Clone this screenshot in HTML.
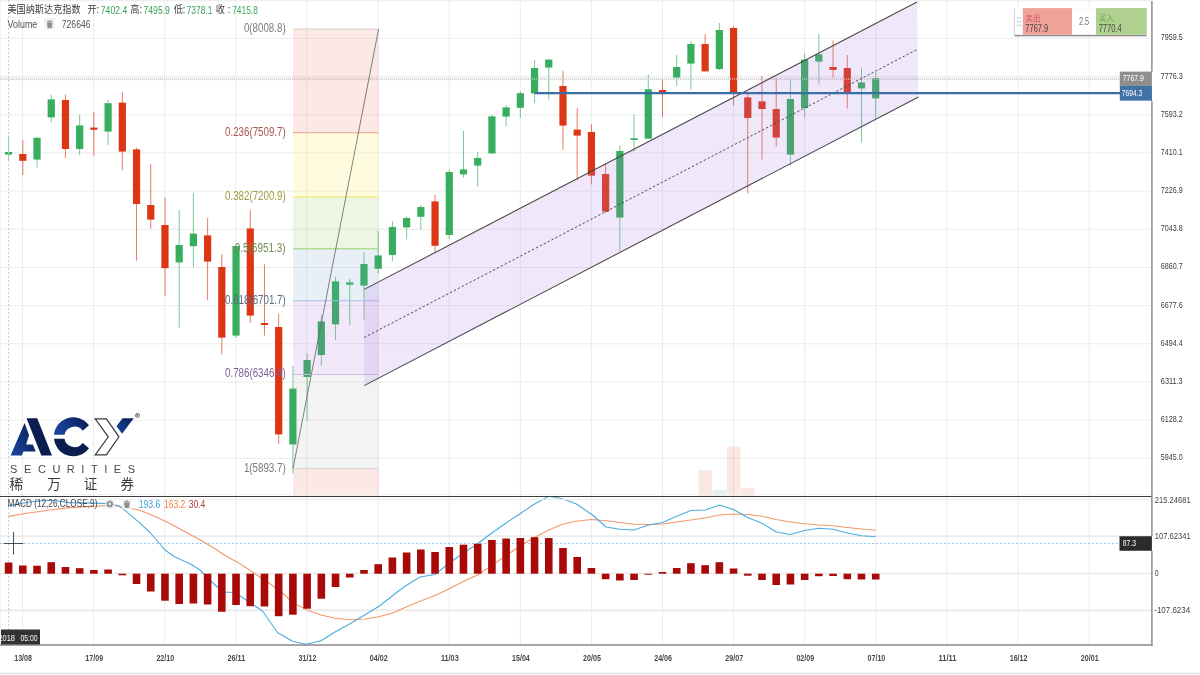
<!DOCTYPE html><html><head><meta charset="utf-8"><title>chart</title><style>html,body{margin:0;padding:0;background:#fff;overflow:hidden}svg{display:block;will-change:transform}</style></head><body><svg width="1200" height="675" viewBox="0 0 1200 675" font-family="'Liberation Sans', 'Noto Sans CJK SC', sans-serif">
<defs>
<linearGradient id="gA" x1="0" y1="1" x2="1" y2="0.35"><stop offset="0" stop-color="#1848a2"/><stop offset="0.55" stop-color="#12337e"/><stop offset="1" stop-color="#0b1d55"/></linearGradient>
<linearGradient id="gC" x1="0" y1="0.3" x2="1" y2="0"><stop offset="0" stop-color="#17459e"/><stop offset="0.5" stop-color="#113079"/><stop offset="1" stop-color="#0a1a4c"/></linearGradient>
<linearGradient id="gY" x1="0" y1="1" x2="1" y2="0"><stop offset="0" stop-color="#17459e"/><stop offset="1" stop-color="#0b1f5a"/></linearGradient>
<clipPath id="cpMain"><rect x="0" y="0" width="1151.5" height="496.5"/></clipPath>
<clipPath id="cpMacd"><rect x="0" y="497.0" width="1151.5" height="148.0"/></clipPath>
<clipPath id="cpAxis"><rect x="1151.5" y="496.5" width="39.3" height="148.5"/></clipPath>
</defs>
<rect width="1200" height="675" fill="#ffffff"/>
<line x1="22.5" y1="0" x2="22.5" y2="645" stroke="#ececec" stroke-width="1"/>
<line x1="93.6" y1="0" x2="93.6" y2="645" stroke="#ececec" stroke-width="1"/>
<line x1="164.7" y1="0" x2="164.7" y2="645" stroke="#ececec" stroke-width="1"/>
<line x1="235.8" y1="0" x2="235.8" y2="645" stroke="#ececec" stroke-width="1"/>
<line x1="306.9" y1="0" x2="306.9" y2="645" stroke="#ececec" stroke-width="1"/>
<line x1="378.1" y1="0" x2="378.1" y2="645" stroke="#ececec" stroke-width="1"/>
<line x1="449.2" y1="0" x2="449.2" y2="645" stroke="#ececec" stroke-width="1"/>
<line x1="520.3" y1="0" x2="520.3" y2="645" stroke="#ececec" stroke-width="1"/>
<line x1="591.4" y1="0" x2="591.4" y2="645" stroke="#ececec" stroke-width="1"/>
<line x1="662.5" y1="0" x2="662.5" y2="645" stroke="#ececec" stroke-width="1"/>
<line x1="733.6" y1="0" x2="733.6" y2="645" stroke="#ececec" stroke-width="1"/>
<line x1="804.7" y1="0" x2="804.7" y2="645" stroke="#ececec" stroke-width="1"/>
<line x1="875.8" y1="0" x2="875.8" y2="645" stroke="#ececec" stroke-width="1"/>
<line x1="946.9" y1="0" x2="946.9" y2="645" stroke="#ececec" stroke-width="1"/>
<line x1="1018.0" y1="0" x2="1018.0" y2="645" stroke="#ececec" stroke-width="1"/>
<line x1="1089.2" y1="0" x2="1089.2" y2="645" stroke="#ececec" stroke-width="1"/>
<line x1="0" y1="38.4" x2="1151.5" y2="38.4" stroke="#ececec" stroke-width="1"/>
<line x1="0" y1="76.6" x2="1151.5" y2="76.6" stroke="#ececec" stroke-width="1"/>
<line x1="0" y1="114.8" x2="1151.5" y2="114.8" stroke="#ececec" stroke-width="1"/>
<line x1="0" y1="152.9" x2="1151.5" y2="152.9" stroke="#ececec" stroke-width="1"/>
<line x1="0" y1="191.1" x2="1151.5" y2="191.1" stroke="#ececec" stroke-width="1"/>
<line x1="0" y1="229.3" x2="1151.5" y2="229.3" stroke="#ececec" stroke-width="1"/>
<line x1="0" y1="267.5" x2="1151.5" y2="267.5" stroke="#ececec" stroke-width="1"/>
<line x1="0" y1="305.7" x2="1151.5" y2="305.7" stroke="#ececec" stroke-width="1"/>
<line x1="0" y1="343.8" x2="1151.5" y2="343.8" stroke="#ececec" stroke-width="1"/>
<line x1="0" y1="382.0" x2="1151.5" y2="382.0" stroke="#ececec" stroke-width="1"/>
<line x1="0" y1="420.2" x2="1151.5" y2="420.2" stroke="#ececec" stroke-width="1"/>
<line x1="0" y1="458.4" x2="1151.5" y2="458.4" stroke="#ececec" stroke-width="1"/>
<line x1="0" y1="0.6" x2="1151.5" y2="0.6" stroke="#efefef" stroke-width="1.2"/><line x1="0.4" y1="0" x2="0.4" y2="645" stroke="#ececec" stroke-width="0.8"/>
<line x1="0" y1="536.2" x2="1151.5" y2="536.2" stroke="#e4e4e4" stroke-width="1.2"/>
<line x1="0" y1="573.5" x2="1151.5" y2="573.5" stroke="#eaeaea" stroke-width="1.6"/>
<line x1="0" y1="610.3" x2="1151.5" y2="610.3" stroke="#efefef" stroke-width="2.6"/>
<rect x="698.4" y="470" width="13.5" height="26.5" fill="rgba(225,80,40,0.13)"/>
<rect x="712.6" y="490" width="13.5" height="6.5" fill="rgba(60,176,94,0.15)"/>
<rect x="726.8" y="446.4" width="13.5" height="50.10000000000002" fill="rgba(225,80,40,0.13)"/>
<rect x="741.0" y="487.9" width="13.5" height="8.600000000000023" fill="rgba(225,80,40,0.13)"/>
<rect x="0" y="77.7" width="1119.5" height="2.7" fill="#f3f3f3"/>
<line x1="0" y1="79" x2="1119.5" y2="79" stroke="#c9c9c9" stroke-width="2" stroke-dasharray="1,1"/>
<g clip-path="url(#cpMain)">
<line x1="8.60" y1="135.6" x2="8.60" y2="160" stroke="#36ae5d" stroke-width="1" opacity="0.66"/>
<rect x="5.00" y="152" width="7.2" height="2.6" fill="#36ae5d"/>
<line x1="22.81" y1="140.4" x2="22.81" y2="175" stroke="#db3715" stroke-width="1" opacity="0.66"/>
<rect x="19.21" y="154" width="7.2" height="6.8" fill="#db3715"/>
<line x1="37.03" y1="137" x2="37.03" y2="167.4" stroke="#36ae5d" stroke-width="1" opacity="0.66"/>
<rect x="33.43" y="137.8" width="7.2" height="21.8" fill="#36ae5d"/>
<line x1="51.24" y1="94.6" x2="51.24" y2="122.6" stroke="#36ae5d" stroke-width="1" opacity="0.66"/>
<rect x="47.64" y="99.4" width="7.2" height="18.0" fill="#36ae5d"/>
<line x1="65.46" y1="94.6" x2="65.46" y2="158" stroke="#db3715" stroke-width="1" opacity="0.66"/>
<rect x="61.86" y="100" width="7.2" height="49.0" fill="#db3715"/>
<line x1="79.67" y1="115" x2="79.67" y2="155" stroke="#36ae5d" stroke-width="1" opacity="0.66"/>
<rect x="76.08" y="125.4" width="7.2" height="23.6" fill="#36ae5d"/>
<line x1="93.89" y1="112" x2="93.89" y2="155.6" stroke="#db3715" stroke-width="1" opacity="0.66"/>
<rect x="90.29" y="127.6" width="7.2" height="2.2" fill="#db3715"/>
<line x1="108.10" y1="100" x2="108.10" y2="145" stroke="#36ae5d" stroke-width="1" opacity="0.66"/>
<rect x="104.50" y="103.2" width="7.2" height="28.4" fill="#36ae5d"/>
<line x1="122.32" y1="91.6" x2="122.32" y2="170" stroke="#db3715" stroke-width="1" opacity="0.66"/>
<rect x="118.72" y="102.6" width="7.2" height="49.0" fill="#db3715"/>
<line x1="136.53" y1="147.6" x2="136.53" y2="260.6" stroke="#db3715" stroke-width="1" opacity="0.66"/>
<rect x="132.94" y="149.4" width="7.2" height="54.6" fill="#db3715"/>
<line x1="150.75" y1="164" x2="150.75" y2="228.6" stroke="#db3715" stroke-width="1" opacity="0.66"/>
<rect x="147.15" y="205" width="7.2" height="14.6" fill="#db3715"/>
<line x1="164.97" y1="197.6" x2="164.97" y2="296" stroke="#db3715" stroke-width="1" opacity="0.66"/>
<rect x="161.37" y="225" width="7.2" height="43.2" fill="#db3715"/>
<line x1="179.18" y1="210" x2="179.18" y2="327.6" stroke="#36ae5d" stroke-width="1" opacity="0.66"/>
<rect x="175.58" y="245" width="7.2" height="17.4" fill="#36ae5d"/>
<line x1="193.39" y1="193" x2="193.39" y2="267.4" stroke="#36ae5d" stroke-width="1" opacity="0.66"/>
<rect x="189.79" y="233.6" width="7.2" height="12.6" fill="#36ae5d"/>
<line x1="207.61" y1="218" x2="207.61" y2="300" stroke="#db3715" stroke-width="1" opacity="0.66"/>
<rect x="204.01" y="235.4" width="7.2" height="26.2" fill="#db3715"/>
<line x1="221.82" y1="254" x2="221.82" y2="354.4" stroke="#db3715" stroke-width="1" opacity="0.66"/>
<rect x="218.22" y="267" width="7.2" height="70.6" fill="#db3715"/>
<line x1="236.04" y1="246" x2="236.04" y2="338" stroke="#36ae5d" stroke-width="1" opacity="0.66"/>
<rect x="232.44" y="246" width="7.2" height="89.6" fill="#36ae5d"/>
<line x1="250.25" y1="210" x2="250.25" y2="323" stroke="#db3715" stroke-width="1" opacity="0.66"/>
<rect x="246.66" y="228.4" width="7.2" height="87.2" fill="#db3715"/>
<line x1="264.47" y1="264.4" x2="264.47" y2="335.6" stroke="#db3715" stroke-width="1" opacity="0.66"/>
<rect x="260.87" y="323" width="7.2" height="2.0" fill="#db3715"/>
<line x1="278.69" y1="314" x2="278.69" y2="444.4" stroke="#db3715" stroke-width="1" opacity="0.66"/>
<rect x="275.08" y="327" width="7.2" height="107.4" fill="#db3715"/>
<line x1="292.90" y1="366" x2="292.90" y2="473.6" stroke="#36ae5d" stroke-width="1" opacity="0.66"/>
<rect x="289.30" y="388.6" width="7.2" height="55.8" fill="#36ae5d"/>
<line x1="307.12" y1="353" x2="307.12" y2="421" stroke="#36ae5d" stroke-width="1" opacity="0.66"/>
<rect x="303.51" y="360" width="7.2" height="17.0" fill="#36ae5d"/>
<line x1="321.33" y1="315" x2="321.33" y2="365.6" stroke="#36ae5d" stroke-width="1" opacity="0.66"/>
<rect x="317.73" y="321.4" width="7.2" height="33.6" fill="#36ae5d"/>
<line x1="335.55" y1="276.6" x2="335.55" y2="340" stroke="#36ae5d" stroke-width="1" opacity="0.66"/>
<rect x="331.94" y="281.4" width="7.2" height="43.0" fill="#36ae5d"/>
<line x1="349.76" y1="279" x2="349.76" y2="325" stroke="#36ae5d" stroke-width="1" opacity="0.66"/>
<rect x="346.16" y="282.4" width="7.2" height="2.3" fill="#36ae5d"/>
<line x1="363.98" y1="252" x2="363.98" y2="319.6" stroke="#36ae5d" stroke-width="1" opacity="0.66"/>
<rect x="360.38" y="264" width="7.2" height="21.6" fill="#36ae5d"/>
<line x1="378.19" y1="231" x2="378.19" y2="273.6" stroke="#36ae5d" stroke-width="1" opacity="0.66"/>
<rect x="374.59" y="255.4" width="7.2" height="13.4" fill="#36ae5d"/>
<line x1="392.41" y1="221" x2="392.41" y2="261" stroke="#36ae5d" stroke-width="1" opacity="0.66"/>
<rect x="388.81" y="227" width="7.2" height="28.0" fill="#36ae5d"/>
<line x1="406.62" y1="216.4" x2="406.62" y2="239.4" stroke="#36ae5d" stroke-width="1" opacity="0.66"/>
<rect x="403.02" y="218" width="7.2" height="9.4" fill="#36ae5d"/>
<line x1="420.84" y1="205" x2="420.84" y2="229.6" stroke="#36ae5d" stroke-width="1" opacity="0.66"/>
<rect x="417.24" y="207" width="7.2" height="9.8" fill="#36ae5d"/>
<line x1="435.05" y1="195" x2="435.05" y2="252" stroke="#db3715" stroke-width="1" opacity="0.66"/>
<rect x="431.45" y="201.4" width="7.2" height="44.4" fill="#db3715"/>
<line x1="449.27" y1="169.6" x2="449.27" y2="239" stroke="#36ae5d" stroke-width="1" opacity="0.66"/>
<rect x="445.67" y="172" width="7.2" height="63.0" fill="#36ae5d"/>
<line x1="463.48" y1="131" x2="463.48" y2="177.6" stroke="#36ae5d" stroke-width="1" opacity="0.66"/>
<rect x="459.88" y="169.4" width="7.2" height="5.0" fill="#36ae5d"/>
<line x1="477.69" y1="152" x2="477.69" y2="186.4" stroke="#36ae5d" stroke-width="1" opacity="0.66"/>
<rect x="474.09" y="158" width="7.2" height="7.6" fill="#36ae5d"/>
<line x1="491.91" y1="115" x2="491.91" y2="154" stroke="#36ae5d" stroke-width="1" opacity="0.66"/>
<rect x="488.31" y="116.4" width="7.2" height="37.0" fill="#36ae5d"/>
<line x1="506.12" y1="105" x2="506.12" y2="126.6" stroke="#36ae5d" stroke-width="1" opacity="0.66"/>
<rect x="502.52" y="107.4" width="7.2" height="9.2" fill="#36ae5d"/>
<line x1="520.34" y1="91" x2="520.34" y2="118" stroke="#36ae5d" stroke-width="1" opacity="0.66"/>
<rect x="516.74" y="93.2" width="7.2" height="14.6" fill="#36ae5d"/>
<line x1="534.56" y1="60" x2="534.56" y2="103" stroke="#36ae5d" stroke-width="1" opacity="0.66"/>
<rect x="530.96" y="68" width="7.2" height="25.4" fill="#36ae5d"/>
<line x1="548.77" y1="59.6" x2="548.77" y2="99.4" stroke="#36ae5d" stroke-width="1" opacity="0.66"/>
<rect x="545.17" y="59.6" width="7.2" height="8.0" fill="#36ae5d"/>
<line x1="562.99" y1="70.8" x2="562.99" y2="150" stroke="#db3715" stroke-width="1" opacity="0.66"/>
<rect x="559.38" y="86" width="7.2" height="39.6" fill="#db3715"/>
<line x1="577.20" y1="108" x2="577.20" y2="180" stroke="#db3715" stroke-width="1" opacity="0.66"/>
<rect x="573.60" y="129.6" width="7.2" height="6.0" fill="#db3715"/>
<line x1="591.41" y1="124.4" x2="591.41" y2="184.4" stroke="#db3715" stroke-width="1" opacity="0.66"/>
<rect x="587.81" y="132" width="7.2" height="43.6" fill="#db3715"/>
<line x1="605.63" y1="163" x2="605.63" y2="213" stroke="#db3715" stroke-width="1" opacity="0.66"/>
<rect x="602.03" y="174" width="7.2" height="37.6" fill="#db3715"/>
<line x1="619.85" y1="145.6" x2="619.85" y2="251" stroke="#36ae5d" stroke-width="1" opacity="0.66"/>
<rect x="616.25" y="151" width="7.2" height="66.6" fill="#36ae5d"/>
<line x1="634.06" y1="114.6" x2="634.06" y2="151.4" stroke="#36ae5d" stroke-width="1" opacity="0.66"/>
<rect x="630.46" y="138.3" width="7.2" height="1.7" fill="#36ae5d"/>
<line x1="648.27" y1="74.4" x2="648.27" y2="139" stroke="#36ae5d" stroke-width="1" opacity="0.66"/>
<rect x="644.67" y="89.2" width="7.2" height="49.4" fill="#36ae5d"/>
<line x1="662.49" y1="79" x2="662.49" y2="117.2" stroke="#db3715" stroke-width="1" opacity="0.66"/>
<rect x="658.89" y="90" width="7.2" height="2.6" fill="#db3715"/>
<line x1="676.71" y1="55" x2="676.71" y2="85.6" stroke="#36ae5d" stroke-width="1" opacity="0.66"/>
<rect x="673.11" y="67" width="7.2" height="10.6" fill="#36ae5d"/>
<line x1="690.92" y1="41" x2="690.92" y2="89.6" stroke="#36ae5d" stroke-width="1" opacity="0.66"/>
<rect x="687.32" y="44" width="7.2" height="19.6" fill="#36ae5d"/>
<line x1="705.13" y1="34" x2="705.13" y2="71.4" stroke="#db3715" stroke-width="1" opacity="0.66"/>
<rect x="701.53" y="44" width="7.2" height="27.4" fill="#db3715"/>
<line x1="719.35" y1="23" x2="719.35" y2="70" stroke="#36ae5d" stroke-width="1" opacity="0.66"/>
<rect x="715.75" y="30" width="7.2" height="39.0" fill="#36ae5d"/>
<line x1="733.57" y1="26" x2="733.57" y2="105.6" stroke="#db3715" stroke-width="1" opacity="0.66"/>
<rect x="729.97" y="28" width="7.2" height="65.0" fill="#db3715"/>
<line x1="747.78" y1="94" x2="747.78" y2="193.4" stroke="#db3715" stroke-width="1" opacity="0.66"/>
<rect x="744.18" y="97.4" width="7.2" height="20.6" fill="#db3715"/>
<line x1="762.00" y1="76" x2="762.00" y2="159.6" stroke="#db3715" stroke-width="1" opacity="0.66"/>
<rect x="758.39" y="101.4" width="7.2" height="7.6" fill="#db3715"/>
<line x1="776.21" y1="78" x2="776.21" y2="146.6" stroke="#db3715" stroke-width="1" opacity="0.66"/>
<rect x="772.61" y="109" width="7.2" height="28.6" fill="#db3715"/>
<line x1="790.43" y1="79" x2="790.43" y2="166" stroke="#36ae5d" stroke-width="1" opacity="0.66"/>
<rect x="786.83" y="99" width="7.2" height="55.6" fill="#36ae5d"/>
<line x1="804.64" y1="53.6" x2="804.64" y2="118" stroke="#36ae5d" stroke-width="1" opacity="0.66"/>
<rect x="801.04" y="59.6" width="7.2" height="48.4" fill="#36ae5d"/>
<line x1="818.86" y1="34.4" x2="818.86" y2="84.4" stroke="#36ae5d" stroke-width="1" opacity="0.66"/>
<rect x="815.25" y="54.4" width="7.2" height="7.2" fill="#36ae5d"/>
<line x1="833.07" y1="40.6" x2="833.07" y2="77.6" stroke="#db3715" stroke-width="1" opacity="0.66"/>
<rect x="829.47" y="67" width="7.2" height="3.0" fill="#db3715"/>
<line x1="847.28" y1="55" x2="847.28" y2="108.6" stroke="#db3715" stroke-width="1" opacity="0.66"/>
<rect x="843.68" y="68" width="7.2" height="24.4" fill="#db3715"/>
<line x1="861.50" y1="67.6" x2="861.50" y2="142.4" stroke="#36ae5d" stroke-width="1" opacity="0.66"/>
<rect x="857.90" y="82.4" width="7.2" height="6.0" fill="#36ae5d"/>
<line x1="875.72" y1="72.4" x2="875.72" y2="119" stroke="#36ae5d" stroke-width="1" opacity="0.66"/>
<rect x="872.12" y="78" width="7.2" height="20.4" fill="#36ae5d"/>
</g>
<line x1="0" y1="79" x2="1119.5" y2="79" stroke="rgba(225,225,225,0.5)" stroke-width="1.8" stroke-dasharray="1,1"/>
<rect x="293.0" y="29.0" width="85.6" height="103.7" fill="rgba(240,120,100,0.17)"/>
<rect x="293.0" y="132.7" width="85.6" height="64.2" fill="rgba(250,235,90,0.20)"/>
<rect x="293.0" y="196.9" width="85.6" height="51.9" fill="rgba(150,200,80,0.16)"/>
<rect x="293.0" y="248.8" width="85.6" height="51.9" fill="rgba(110,158,205,0.16)"/>
<rect x="293.0" y="300.7" width="85.6" height="73.9" fill="rgba(170,120,220,0.16)"/>
<rect x="293.0" y="374.5" width="85.6" height="94.1" fill="rgba(150,150,150,0.11)"/>
<rect x="293.0" y="468.6" width="85.6" height="27.9" fill="rgba(240,120,100,0.17)"/>
<line x1="293.0" y1="29.0" x2="378.6" y2="29.0" stroke="#d9cfcb" stroke-width="0.9"/>
<text x="243.9" y="31.9" font-size="12.5" fill="#7b7b7b" textLength="41.8" lengthAdjust="spacingAndGlyphs">0(8008.8)</text>
<line x1="293.0" y1="132.7" x2="378.6" y2="132.7" stroke="#f0a190" stroke-width="1.1"/>
<text x="225.0" y="135.6" font-size="12.5" fill="#a4574c" textLength="60.7" lengthAdjust="spacingAndGlyphs">0.236(7509.7)</text>
<line x1="293.0" y1="196.9" x2="378.6" y2="196.9" stroke="#f5ec74" stroke-width="1.4"/>
<text x="225.0" y="199.8" font-size="12.5" fill="#a39a3c" textLength="60.7" lengthAdjust="spacingAndGlyphs">0.382(7200.9)</text>
<line x1="293.0" y1="248.8" x2="378.6" y2="248.8" stroke="#b4dc95" stroke-width="1.4"/>
<text x="234.7" y="251.7" font-size="12.5" fill="#6f8a52" textLength="51.0" lengthAdjust="spacingAndGlyphs">0.5(6951.3)</text>
<line x1="293.0" y1="300.7" x2="378.6" y2="300.7" stroke="#a4c0e2" stroke-width="1.1"/>
<text x="225.0" y="303.6" font-size="12.5" fill="#5b6b86" textLength="60.7" lengthAdjust="spacingAndGlyphs">0.618(6701.7)</text>
<line x1="293.0" y1="374.5" x2="378.6" y2="374.5" stroke="#d3bbe8" stroke-width="1.1"/>
<text x="225.0" y="377.4" font-size="12.5" fill="#7d5f9d" textLength="60.7" lengthAdjust="spacingAndGlyphs">0.786(6346.4)</text>
<line x1="293.0" y1="468.6" x2="378.6" y2="468.6" stroke="#d4d4d4" stroke-width="0.9"/>
<text x="243.9" y="471.5" font-size="12.5" fill="#7b7b7b" textLength="41.8" lengthAdjust="spacingAndGlyphs">1(5893.7)</text>
<line x1="293.0" y1="468.6" x2="378.6" y2="29.0" stroke="#6a6a6a" stroke-width="0.85"/>
<polygon points="364.2,289.4 917,2 918.5,97 364.2,385.6" fill="rgba(178,120,225,0.18)"/>
<line x1="364.2" y1="289.4" x2="917" y2="2" stroke="#474747" stroke-width="1.05"/>
<line x1="364.2" y1="385.6" x2="918.5" y2="97" stroke="#474747" stroke-width="1.05"/>
<line x1="364.2" y1="337.5" x2="918" y2="49" stroke="#4a4a4a" stroke-width="1.0" stroke-dasharray="2.3,2.1"/>
<line x1="534.8" y1="93.15" x2="1120.5" y2="93.15" stroke="#3b6ea6" stroke-width="2.3"/>
<line x1="8.6" y1="0" x2="8.6" y2="645" stroke="#a6d4f7" stroke-width="1" stroke-dasharray="2,2"/>
<line x1="0" y1="543.5" x2="1119.5" y2="543.5" stroke="#93cdf6" stroke-width="1" stroke-dasharray="2,2"/>
<g clip-path="url(#cpMacd)">
<polyline fill="none" stroke="#f4976a" stroke-width="1.1" stroke-linejoin="round" points="8.4,516.4 23.4,513.7 50.0,510.0 70.0,507.6 104.0,505.8 117.0,506.0 140.0,510.2 157.5,517.5 172.5,525.0 187.5,533.0 202.5,541.2 215.0,548.7 225.0,555.5 240.0,563.7 255.0,573.7 270.0,583.7 285.0,595.0 292.5,602.5 307.5,610.0 321.0,615.0 335.0,618.2 350.0,619.7 365.0,619.0 379.0,616.7 392.5,613.0 405.0,607.5 420.0,601.2 435.0,595.5 450.0,588.2 463.7,581.2 477.5,575.0 492.5,565.0 506.0,555.5 520.0,546.2 534.5,537.5 548.7,530.0 562.5,524.2 576.0,521.2 591.7,519.5 606.0,520.7 620.0,522.5 634.2,524.2 648.5,524.5 662.7,524.0 676.7,522.0 691.0,520.0 705.2,518.0 719.5,515.0 733.5,514.0 747.7,514.5 762.0,516.2 776.2,519.5 790.2,522.0 804.5,523.7 818.7,525.0 833.0,525.7 847.2,527.5 861.5,529.0 875.7,530.3"/>
<polyline fill="none" stroke="#4cace0" stroke-width="1.1" stroke-linejoin="round" points="8.4,505.6 30.0,502.0 50.0,500.3 70.0,502.6 104.0,503.4 118.0,505.5 124.0,509.6 130.0,514.7 135.0,518.9 140.0,523.1 150.0,532.5 165.0,550.0 175.0,557.0 190.0,563.7 200.0,570.0 212.5,582.5 222.5,592.0 235.0,592.5 250.0,602.5 262.5,611.0 277.5,632.5 292.5,641.2 306.0,644.2 321.0,640.7 335.0,632.0 350.0,623.7 362.5,616.2 379.0,606.2 395.0,593.7 405.0,586.2 420.0,577.0 435.0,574.5 450.0,562.5 462.5,553.7 477.5,543.7 492.5,532.5 505.0,523.7 520.0,513.7 535.0,503.7 548.7,496.2 562.5,498.7 576.0,503.7 592.5,515.0 606.0,527.0 620.0,529.2 633.7,530.0 648.7,525.0 662.5,522.5 676.7,516.2 691.0,510.5 705.2,510.0 719.5,505.0 733.5,509.5 747.7,517.5 762.0,523.2 776.2,532.0 790.2,534.5 804.5,530.5 818.7,528.2 833.0,529.2 847.2,533.0 861.5,535.7 875.7,536.8"/>
<rect x="4.80" y="562.5" width="7.6" height="11.2" fill="#a80909"/>
<rect x="19.01" y="565.5" width="7.6" height="8.2" fill="#a80909"/>
<rect x="33.23" y="565.7" width="7.6" height="8.0" fill="#a80909"/>
<rect x="47.45" y="562.2" width="7.6" height="11.5" fill="#a80909"/>
<rect x="61.66" y="567.0" width="7.6" height="6.7" fill="#a80909"/>
<rect x="75.88" y="568.2" width="7.6" height="5.5" fill="#a80909"/>
<rect x="90.09" y="570.0" width="7.6" height="3.7" fill="#a80909"/>
<rect x="104.30" y="569.5" width="7.6" height="4.2" fill="#a80909"/>
<rect x="118.52" y="573.7" width="7.6" height="1.6" fill="#a80909"/>
<rect x="132.73" y="573.7" width="7.6" height="10.3" fill="#a80909"/>
<rect x="146.95" y="573.7" width="7.6" height="17.8" fill="#a80909"/>
<rect x="161.16" y="573.7" width="7.6" height="27.0" fill="#a80909"/>
<rect x="175.38" y="573.7" width="7.6" height="30.3" fill="#a80909"/>
<rect x="189.59" y="573.7" width="7.6" height="29.8" fill="#a80909"/>
<rect x="203.81" y="573.7" width="7.6" height="30.8" fill="#a80909"/>
<rect x="218.02" y="573.7" width="7.6" height="38.0" fill="#a80909"/>
<rect x="232.24" y="573.7" width="7.6" height="31.3" fill="#a80909"/>
<rect x="246.45" y="573.7" width="7.6" height="32.5" fill="#a80909"/>
<rect x="260.67" y="573.7" width="7.6" height="32.8" fill="#a80909"/>
<rect x="274.88" y="573.7" width="7.6" height="42.5" fill="#a80909"/>
<rect x="289.10" y="573.7" width="7.6" height="41.0" fill="#a80909"/>
<rect x="303.31" y="573.7" width="7.6" height="35.0" fill="#a80909"/>
<rect x="317.53" y="573.7" width="7.6" height="25.0" fill="#a80909"/>
<rect x="331.75" y="573.7" width="7.6" height="13.3" fill="#a80909"/>
<rect x="345.96" y="573.7" width="7.6" height="3.8" fill="#a80909"/>
<rect x="360.18" y="570.0" width="7.6" height="3.7" fill="#a80909"/>
<rect x="374.39" y="564.2" width="7.6" height="9.5" fill="#a80909"/>
<rect x="388.61" y="557.5" width="7.6" height="16.2" fill="#a80909"/>
<rect x="402.82" y="552.5" width="7.6" height="21.2" fill="#a80909"/>
<rect x="417.04" y="549.5" width="7.6" height="24.2" fill="#a80909"/>
<rect x="431.25" y="552.0" width="7.6" height="21.7" fill="#a80909"/>
<rect x="445.47" y="547.0" width="7.6" height="26.7" fill="#a80909"/>
<rect x="459.68" y="544.7" width="7.6" height="29.0" fill="#a80909"/>
<rect x="473.89" y="543.7" width="7.6" height="30.0" fill="#a80909"/>
<rect x="488.11" y="540.0" width="7.6" height="33.7" fill="#a80909"/>
<rect x="502.32" y="538.5" width="7.6" height="35.2" fill="#a80909"/>
<rect x="516.54" y="538.0" width="7.6" height="35.7" fill="#a80909"/>
<rect x="530.76" y="537.2" width="7.6" height="36.5" fill="#a80909"/>
<rect x="544.97" y="538.0" width="7.6" height="35.7" fill="#a80909"/>
<rect x="559.19" y="548.0" width="7.6" height="25.7" fill="#a80909"/>
<rect x="573.40" y="557.0" width="7.6" height="16.7" fill="#a80909"/>
<rect x="587.62" y="568.0" width="7.6" height="5.7" fill="#a80909"/>
<rect x="601.83" y="573.7" width="7.6" height="5.5" fill="#a80909"/>
<rect x="616.05" y="573.7" width="7.6" height="6.8" fill="#a80909"/>
<rect x="630.26" y="573.7" width="7.6" height="6.3" fill="#a80909"/>
<rect x="644.48" y="573.7" width="7.6" height="1.0" fill="#a80909"/>
<rect x="658.69" y="572.0" width="7.6" height="1.7" fill="#a80909"/>
<rect x="672.91" y="568.0" width="7.6" height="5.7" fill="#a80909"/>
<rect x="687.12" y="563.2" width="7.6" height="10.5" fill="#a80909"/>
<rect x="701.34" y="565.2" width="7.6" height="8.5" fill="#a80909"/>
<rect x="715.55" y="562.2" width="7.6" height="11.5" fill="#a80909"/>
<rect x="729.77" y="568.5" width="7.6" height="5.2" fill="#a80909"/>
<rect x="743.98" y="573.7" width="7.6" height="2.0" fill="#a80909"/>
<rect x="758.20" y="573.7" width="7.6" height="6.3" fill="#a80909"/>
<rect x="772.41" y="573.7" width="7.6" height="11.3" fill="#a80909"/>
<rect x="786.63" y="573.7" width="7.6" height="10.8" fill="#a80909"/>
<rect x="800.84" y="573.7" width="7.6" height="6.3" fill="#a80909"/>
<rect x="815.06" y="573.7" width="7.6" height="2.5" fill="#a80909"/>
<rect x="829.27" y="573.7" width="7.6" height="2.3" fill="#a80909"/>
<rect x="843.49" y="573.7" width="7.6" height="5.5" fill="#a80909"/>
<rect x="857.70" y="573.7" width="7.6" height="5.8" fill="#a80909"/>
<rect x="871.92" y="573.7" width="7.6" height="5.8" fill="#a80909"/>
</g>
<line x1="0" y1="494.6" x2="1151.5" y2="494.6" stroke="#f1f1f1" stroke-width="1"/><line x1="0" y1="499.3" x2="1151.5" y2="499.3" stroke="#eeeeee" stroke-width="1.3"/>
<line x1="0" y1="496.45" x2="1151.8" y2="496.45" stroke="#3c3c3c" stroke-width="1.15"/>
<line x1="0" y1="644.9" x2="1152.6" y2="644.9" stroke="#8a8a8a" stroke-width="1.5"/>
<line x1="1151.9" y1="1" x2="1151.9" y2="645.65" stroke="#8a8a8a" stroke-width="1.45"/>
<line x1="0" y1="673.5" x2="1200" y2="673.5" stroke="#e4e4e4" stroke-width="1.4"/>
<text x="1160.8" y="40.4" font-size="9.5" fill="#3a3a3a" textLength="21.9" lengthAdjust="spacingAndGlyphs">7959.5</text>
<text x="1160.8" y="78.5" font-size="9.5" fill="#3a3a3a" textLength="21.9" lengthAdjust="spacingAndGlyphs">7776.3</text>
<text x="1160.8" y="116.7" font-size="9.5" fill="#3a3a3a" textLength="21.9" lengthAdjust="spacingAndGlyphs">7593.2</text>
<text x="1160.8" y="154.9" font-size="9.5" fill="#3a3a3a" textLength="21.9" lengthAdjust="spacingAndGlyphs">7410.1</text>
<text x="1160.8" y="193.1" font-size="9.5" fill="#3a3a3a" textLength="21.9" lengthAdjust="spacingAndGlyphs">7226.9</text>
<text x="1160.8" y="231.2" font-size="9.5" fill="#3a3a3a" textLength="21.9" lengthAdjust="spacingAndGlyphs">7043.8</text>
<text x="1160.8" y="269.4" font-size="9.5" fill="#3a3a3a" textLength="21.9" lengthAdjust="spacingAndGlyphs">6860.7</text>
<text x="1160.8" y="307.6" font-size="9.5" fill="#3a3a3a" textLength="21.9" lengthAdjust="spacingAndGlyphs">6677.6</text>
<text x="1160.8" y="345.8" font-size="9.5" fill="#3a3a3a" textLength="21.9" lengthAdjust="spacingAndGlyphs">6494.4</text>
<text x="1160.8" y="384.0" font-size="9.5" fill="#3a3a3a" textLength="21.9" lengthAdjust="spacingAndGlyphs">6311.3</text>
<text x="1160.8" y="422.1" font-size="9.5" fill="#3a3a3a" textLength="21.9" lengthAdjust="spacingAndGlyphs">6128.2</text>
<text x="1160.8" y="460.3" font-size="9.5" fill="#3a3a3a" textLength="21.9" lengthAdjust="spacingAndGlyphs">5945.0</text>
<g clip-path="url(#cpAxis)">
<text x="1154.8" y="502.8" font-size="9.7" fill="#444" textLength="35.8" lengthAdjust="spacingAndGlyphs">215.24681</text>
<text x="1154.8" y="538.7" font-size="9.7" fill="#444" textLength="35.8" lengthAdjust="spacingAndGlyphs">107.62341</text>
<text x="1154.8" y="576.0" font-size="9.7" fill="#444" textLength="3.9" lengthAdjust="spacingAndGlyphs">0</text>
<text x="1154.3" y="612.8" font-size="9.7" fill="#444" textLength="40.2" lengthAdjust="spacingAndGlyphs">-107.62341</text>
</g>
<rect x="1119.8" y="71.6" width="32.1" height="14.3" fill="#8e8e8e"/>
<text x="1122.7" y="81.3" font-size="9.1" fill="#ffffff" textLength="21.2" lengthAdjust="spacingAndGlyphs">7767.9</text>
<rect x="1151.9" y="71.6" width="1.2" height="29.05" fill="#fff"/><rect x="1151.8" y="536.25" width="1.3" height="14.5" fill="#fff"/>
<rect x="1119.8" y="85.85" width="32.1" height="14.8" fill="#4072a6"/>
<text x="1121.8" y="96.4" font-size="9.1" fill="#ffffff" textLength="20.4" lengthAdjust="spacingAndGlyphs">7694.3</text>
<rect x="1119.5" y="536.25" width="32.3" height="14.5" fill="#2b2b2b"/>
<text x="1122.8" y="546.4" font-size="9.2" fill="#ffffff" textLength="13.2" lengthAdjust="spacingAndGlyphs">87.3</text>
<text x="14.2" y="661.1" font-size="8.6" font-weight="bold" fill="#484848" textLength="17.8" lengthAdjust="spacingAndGlyphs">13/08</text>
<text x="85.3" y="661.1" font-size="8.6" font-weight="bold" fill="#484848" textLength="17.8" lengthAdjust="spacingAndGlyphs">17/09</text>
<text x="156.4" y="661.1" font-size="8.6" font-weight="bold" fill="#484848" textLength="17.8" lengthAdjust="spacingAndGlyphs">22/10</text>
<text x="227.5" y="661.1" font-size="8.6" font-weight="bold" fill="#484848" textLength="17.8" lengthAdjust="spacingAndGlyphs">26/11</text>
<text x="298.6" y="661.1" font-size="8.6" font-weight="bold" fill="#484848" textLength="17.8" lengthAdjust="spacingAndGlyphs">31/12</text>
<text x="369.8" y="661.1" font-size="8.6" font-weight="bold" fill="#484848" textLength="17.8" lengthAdjust="spacingAndGlyphs">04/02</text>
<text x="440.9" y="661.1" font-size="8.6" font-weight="bold" fill="#484848" textLength="17.8" lengthAdjust="spacingAndGlyphs">11/03</text>
<text x="512.0" y="661.1" font-size="8.6" font-weight="bold" fill="#484848" textLength="17.8" lengthAdjust="spacingAndGlyphs">15/04</text>
<text x="583.1" y="661.1" font-size="8.6" font-weight="bold" fill="#484848" textLength="17.8" lengthAdjust="spacingAndGlyphs">20/05</text>
<text x="654.2" y="661.1" font-size="8.6" font-weight="bold" fill="#484848" textLength="17.8" lengthAdjust="spacingAndGlyphs">24/06</text>
<text x="725.3" y="661.1" font-size="8.6" font-weight="bold" fill="#484848" textLength="17.8" lengthAdjust="spacingAndGlyphs">29/07</text>
<text x="796.4" y="661.1" font-size="8.6" font-weight="bold" fill="#484848" textLength="17.8" lengthAdjust="spacingAndGlyphs">02/09</text>
<text x="867.5" y="661.1" font-size="8.6" font-weight="bold" fill="#484848" textLength="17.8" lengthAdjust="spacingAndGlyphs">07/10</text>
<text x="938.6" y="661.1" font-size="8.6" font-weight="bold" fill="#484848" textLength="17.8" lengthAdjust="spacingAndGlyphs">11/11</text>
<text x="1009.7" y="661.1" font-size="8.6" font-weight="bold" fill="#484848" textLength="17.8" lengthAdjust="spacingAndGlyphs">16/12</text>
<text x="1080.8" y="661.1" font-size="8.6" font-weight="bold" fill="#484848" textLength="17.8" lengthAdjust="spacingAndGlyphs">20/01</text>
<rect x="1" y="629.5" width="39" height="15" fill="#333333"/>
<text x="-1.5" y="641.2" font-size="8.6" fill="#ffffff" textLength="16.5" lengthAdjust="spacingAndGlyphs">2018</text>
<text x="20.5" y="641.2" font-size="8.6" fill="#ffffff" textLength="17.0" lengthAdjust="spacingAndGlyphs">05:00</text>
<path d="M3.5 543.5H23.3M13.5 531.9V554.7" stroke="#3a3a3a" stroke-width="0.9" fill="none"/>
<text x="7.4" y="13.2" font-size="10" fill="#3c3c3c" textLength="73.2" lengthAdjust="spacingAndGlyphs">美国纳斯达克指数</text>
<text x="87.4" y="13.2" font-size="10" fill="#3c3c3c" textLength="9.15" lengthAdjust="spacingAndGlyphs">开</text>
<text x="96.3" y="13.4" font-size="10.7" fill="#3c3c3c">:</text>
<text x="100.8" y="13.5" font-size="10.7" fill="#3ba259" textLength="26.4" lengthAdjust="spacingAndGlyphs">7402.4</text>
<text x="130.2" y="13.2" font-size="10" fill="#3c3c3c" textLength="9.15" lengthAdjust="spacingAndGlyphs">高</text>
<text x="139.2" y="13.4" font-size="10.7" fill="#3c3c3c">:</text>
<text x="143.5" y="13.5" font-size="10.7" fill="#3ba259" textLength="26.4" lengthAdjust="spacingAndGlyphs">7495.9</text>
<text x="173.8" y="13.2" font-size="10" fill="#3c3c3c" textLength="9.15" lengthAdjust="spacingAndGlyphs">低</text>
<text x="182.6" y="13.4" font-size="10.7" fill="#3c3c3c">:</text>
<text x="186.7" y="13.5" font-size="10.7" fill="#3ba259" textLength="25.6" lengthAdjust="spacingAndGlyphs">7378.1</text>
<text x="215.8" y="13.2" font-size="10" fill="#3c3c3c" textLength="9.15" lengthAdjust="spacingAndGlyphs">收</text>
<text x="227.6" y="13.4" font-size="10.7" fill="#3c3c3c">:</text>
<text x="232.2" y="13.5" font-size="10.7" fill="#3ba259" textLength="25.6" lengthAdjust="spacingAndGlyphs">7415.8</text>
<text x="7.5" y="27.9" font-size="10.7" fill="#555" textLength="29.8" lengthAdjust="spacingAndGlyphs">Volume</text>
<rect x="44.3" y="18" width="10.7" height="11.6" fill="#f1f1f1"/>
<path d="M46.9 21.6h5.6M48.6 20.7h2.2M47.5 22.8h4.4l-.4 5h-3.6z" stroke="#8d8d8d" stroke-width=".8" fill="#8d8d8d"/>
<text x="61.8" y="27.9" font-size="10.7" fill="#555" textLength="28.7" lengthAdjust="spacingAndGlyphs">726646</text>
<text x="7.6" y="507.4" font-size="10.2" fill="#484848" textLength="89.8" lengthAdjust="spacingAndGlyphs">MACD (12,26,CLOSE,9)</text>
<rect x="105.3" y="499.6" width="9.6" height="9.5" fill="#f4f4f4" opacity=".85"/><rect x="121.8" y="499.6" width="9.9" height="9.5" fill="#f4f4f4" opacity=".85"/>
<circle cx="109.8" cy="504" r="2.1" fill="none" stroke="#8c8c8c" stroke-width="1.5"/><circle cx="109.8" cy="504" r="3.15" fill="none" stroke="#8c8c8c" stroke-width="1.1" stroke-dasharray="1.24,1.234"/>
<path d="M124 501.7h5.8M125.8 500.9h2.2M124.6 502.8h4.6l-.4 4.7h-3.8z" stroke="#8c8c8c" stroke-width=".8" fill="#8c8c8c"/>
<text x="138.7" y="507.8" font-size="10" fill="#3f9fd6" textLength="21.5" lengthAdjust="spacingAndGlyphs">193.6</text>
<text x="164.0" y="507.8" font-size="10" fill="#f2854f" textLength="21.3" lengthAdjust="spacingAndGlyphs">163.2</text>
<text x="188.7" y="507.8" font-size="10" fill="#b5373a" textLength="16.5" lengthAdjust="spacingAndGlyphs">30.4</text>
<rect x="1014.2" y="8.6" width="132.6" height="28.3" rx="1" fill="rgba(0,0,0,0.10)"/>
<rect x="1014.5" y="8.4" width="132" height="27.8" fill="rgba(0,0,0,0.36)"/>
<rect x="1014.7" y="8.1" width="131.6" height="26.7" fill="#ffffff"/>
<rect x="1022.8" y="8.1" width="49.2" height="26.7" fill="#f0a299"/>
<rect x="1096" y="8.1" width="50.3" height="26.7" fill="#afd08f"/>
<rect x="1017.1" y="17.2" width="1.2" height="1.3" fill="#a3afc4"/><rect x="1019.6" y="17.2" width="1.2" height="1.3" fill="#a3afc4"/>
<rect x="1017.1" y="20.9" width="1.2" height="1.3" fill="#a3afc4"/><rect x="1019.6" y="20.9" width="1.2" height="1.3" fill="#a3afc4"/>
<rect x="1017.1" y="24.6" width="1.2" height="1.3" fill="#a3afc4"/><rect x="1019.6" y="24.6" width="1.2" height="1.3" fill="#a3afc4"/>
<text x="1025.6" y="21.3" font-size="8.5" fill="#cf5a6e" textLength="15" lengthAdjust="spacingAndGlyphs">卖出</text>
<text x="1025.3" y="32.1" font-size="10.3" fill="#474747" textLength="23.0" lengthAdjust="spacingAndGlyphs">7767.9</text>
<text x="1078.9" y="25.4" font-size="10.1" fill="#777" textLength="10.3" lengthAdjust="spacingAndGlyphs">2.5</text>
<text x="1099.0" y="21.3" font-size="8.5" fill="#62aa4e" textLength="15" lengthAdjust="spacingAndGlyphs">买入</text>
<text x="1098.7" y="32.1" font-size="10.3" fill="#474747" textLength="23.0" lengthAdjust="spacingAndGlyphs">7770.4</text>
<g transform="translate(0,400) scale(0.13333)">
<polygon points="184.5,172.5 79.5,417 162.8,417 176,386 268,386 246,333 196,333 218,264" fill="url(#gA)"/>
<polygon points="199,136 279,136 390,417 310,417" fill="#0b1c50"/>
<clipPath id="cTop"><rect x="380" y="100" width="320" height="161"/></clipPath><clipPath id="cBot"><rect x="380" y="290.6" width="320" height="160"/></clipPath>
<path clip-path="url(#cTop)" d="M403.5,276 A146,146 0 0 1 667.6,190.2 L620.1,230.0 A76.5,76.5 0 0 0 482.5,276 Z" fill="url(#gC)"/>
<path clip-path="url(#cBot)" d="M403.5,276 A146,146 0 0 0 667.6,361.8 L620.1,322.0 A76.5,76.5 0 0 1 482.5,276 Z" fill="#0b1c50"/>
<polygon points="714,141 798,141 892,276 798,411 714,411 812,276" fill="#fff" stroke="#353a42" stroke-width="9"/>
<polygon points="918.75,136.5 1003,136.5 915.6,253 873.75,197" fill="url(#gY)"/>
<circle cx="1031" cy="115.5" r="15" fill="none" stroke="#444" stroke-width="5.5"/><path d="M1026 107v17M1026 107.5h6q5 0 5 4.5t-5 4.5h-6m6 0l5.5 7.5" fill="none" stroke="#444" stroke-width="4.2"/>
</g>
<text x="10.1" y="472.5" font-size="11" fill="#484848" textLength="125" lengthAdjust="spacing">SECURITIES</text>
<text x="9.6" y="488.9" font-size="13.6" fill="#3a3a3a">稀</text>
<text x="47.2" y="488.9" font-size="13.6" fill="#3a3a3a">万</text>
<text x="83.8" y="488.9" font-size="13.6" fill="#3a3a3a">证</text>
<text x="120.4" y="488.9" font-size="13.6" fill="#3a3a3a">券</text>
</svg></body></html>
